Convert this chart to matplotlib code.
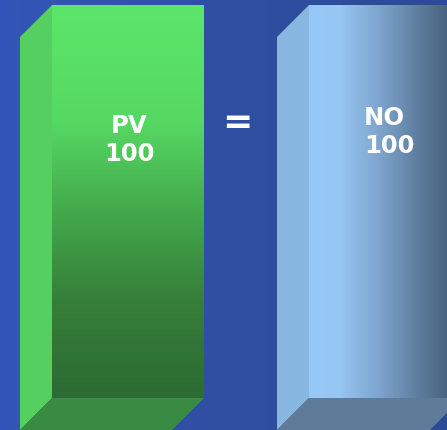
import matplotlib
matplotlib.use("Agg")
import matplotlib.pyplot as plt
import numpy as np
from matplotlib.colors import LinearSegmentedColormap
from matplotlib.patches import Polygon

labels = ["PV", "NO"]
values = [100, 100]
bar_left = [52, 309]      # front face left edge (x units = pixels)
bar_width = [152, 153]
depth_x, depth_y = 32, 8.14  # offset of the 3D side/bottom faces

W, H = 447, 431
fig = plt.figure(figsize=(W / 100, H / 100), dpi=100)
ax = fig.add_axes([0, 0, 1, 1])
ax.set_xlim(0, W)
ax.set_ylim(-8.14, 101.53)
ax.axis("off")

# background: horizontal blue gradient
bg = LinearSegmentedColormap.from_list("bg", ["#3356B8", "#2F4FA2", "#2C4A96"])
ax.imshow(np.linspace(0, 1, 256)[None, :], cmap=bg, aspect="auto",
          extent=[0, W, -8.14, 101.53], zorder=0)

green = LinearSegmentedColormap.from_list(
    "g", [(0, "#5BE66B"), (0.3, "#56D863"), (0.5, "#45AE4E"),
          (0.75, "#367F3A"), (1, "#2C6B33")])
blue = LinearSegmentedColormap.from_list(
    "b", [(0, "#97C8F8"), (0.2, "#96C6F2"), (0.45, "#7FA6CF"),
          (0.75, "#5A7898"), (1, "#3E556E")])

side_cols = ["#55CF60", "#87B6E0"]
bottom_cols = ["#398A43", "#5F7B9A"]
cmaps = [green, blue]

for i, v in enumerate(values):
    x0 = bar_left[i]
    x1 = x0 + bar_width[i]
    # left side face
    ax.add_patch(Polygon([(x0 - depth_x, -depth_y), (x0, 0), (x0, v),
                          (x0 - depth_x, v - depth_y)],
                         closed=True, fc=side_cols[i], ec="none", zorder=1))
    # bottom face
    ax.add_patch(Polygon([(x0 - depth_x, -depth_y), (x1 - depth_x, -depth_y),
                          (x1, 0), (x0, 0)],
                         closed=True, fc=bottom_cols[i], ec="none", zorder=1))
    # front face with gradient
    front = Polygon([(x0, 0), (x1, 0), (x1, v), (x0, v)], closed=True,
                    fc="none", ec="none", zorder=2)
    ax.add_patch(front)
    if i == 0:
        grad = np.linspace(0, 1, 256)[:, None]
    else:
        grad = np.linspace(0, 1, 256)[None, :]
    im = ax.imshow(grad, cmap=cmaps[i], aspect="auto",
                   extent=[x0, x1, 0, v] if i == 1 else [x0, x1, v, 0],
                   origin="upper" if i == 1 else "lower", zorder=2)
    im.set_clip_path(front)

font = dict(color="white", fontweight="bold", fontsize=17.5,
            family="DejaVu Sans", va="center", linespacing=1.2, zorder=5)
ax.text(129, 66.0, f"{labels[0]}\n{values[0]}", ha="center",
        multialignment="center", **font)
ax.text(364, 68.0, f"{labels[1]}\n{values[1]}", ha="left",
        multialignment="left", **font)
font["fontsize"] = 26
ax.text(237, 70.2, "=", ha="center", **font)

fig.savefig("out.png", dpi=100)
